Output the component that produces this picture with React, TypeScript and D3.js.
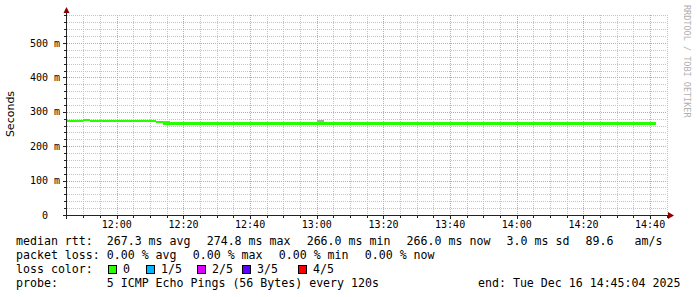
import React from "react";
import * as d3 from "d3";

// ---- data ----
const startTime = "11:45:04";
const endTime = "14:45:04";
const medianTimes = ["11:45:04", "11:50:00", "11:52:00", "12:11:45", "12:13:50", "14:41:40"];
const medianValues = [272.8, 274.8, 272.8, 269.8, 266.0];
const smokeTimes = [["12:13:50", "12:15:55"], ["13:00:04", "13:02:10"]];
const smokeLow = [266.0, 266.0];
const smokeHigh = [273.2, 276.2];
const yMajorTicks = [0, 100, 200, 300, 400, 500];
const rttItems = ["median rtt:  267.3 ms avg", "274.8 ms max", "266.0 ms min", "266.0 ms now", "3.0 ms sd", "89.6   am/s"];
const lossItems = ["packet loss: 0.00 % avg", "0.00 % max", "0.00 % min", "0.00 % now"];
const lossTitle = "loss color:";
const lossLabels = ["0", "1/5", "2/5", "3/5", "4/5"];
const lossColors = ["#26ff00", "#00b8ff", "#dd00ff", "#5e00ff", "#ff0000"];
const probeText = "probe:       5 ICMP Echo Pings (56 Bytes) every 120s";
const endText = "end: Tue Dec 16 14:45:04 2025";
const yMax = 581.4;

const parse = (s: string) => {
  const [h, m, sec] = s.split(":").map(Number);
  return new Date(2025, 11, 16, h, m, sec || 0);
};

const MONO = "'DejaVu Sans Mono', monospace";
const PRE: React.CSSProperties = { whiteSpace: "pre" };
const CW = 6.98; // char advance at 11.6px
const GAP = 16.2;

function itemX(items: string[], x0: number) {
  const out: number[] = [];
  let xx = x0;
  items.forEach((s) => {
    out.push(xx);
    xx += s.length * CW + GAP;
  });
  return out;
}

export default function App() {
  const W = 697, H = 297;
  const x = d3.scaleTime().domain([parse(startTime), parse(endTime)]).range([67, 667]);
  const y = d3.scaleLinear().domain([0, yMax]).range([215, 15]);
  const px = (v: number) => Math.round(v) + 0.5;

  const minorX = x.ticks(d3.timeMinute.every(5) as any);
  const majorX = x.ticks(d3.timeMinute.every(20) as any);
  const majorSet = new Set(majorX.map((d) => +d));
  const minorY = d3.range(20, yMax, 20).filter((v) => v % 100 !== 0);
  const fmt = d3.timeFormat("%H:%M");

  const segs = medianValues.map((v, i) => ({
    t0: parse(medianTimes[i]),
    t1: parse(medianTimes[i + 1]),
    v,
  }));
  const thickFrom = parse("12:13:50");

  const rttX = itemX(rttItems, 16);
  const lossX = itemX(lossItems, 16);
  const swatchX = [108, 146, 197, 242, 298];

  return (
    <svg width={W} height={H} style={{ display: "block", position: "absolute", left: 0, top: 0, background: "#fff" }}>
      <rect width={W} height={H} fill="#fff" />
      {/* minor grid */}
      <g stroke="#c4c4c4" strokeWidth={1} strokeDasharray="1,1" shapeRendering="crispEdges">
        {minorX.filter((d) => !majorSet.has(+d)).map((d, i) => (
          <line key={"mx" + i} x1={px(x(d))} x2={px(x(d))} y1={15} y2={215} />
        ))}
        {minorY.map((v, i) => (
          <line key={"my" + i} x1={67} x2={667} y1={px(y(v))} y2={px(y(v))} />
        ))}
      </g>
      {/* major grid */}
      <g stroke="#e49a9a" strokeWidth={1} strokeDasharray="1,1" shapeRendering="crispEdges">
        {majorX.map((d, i) => (
          <line key={"Mx" + i} x1={px(x(d))} x2={px(x(d))} y1={15} y2={215} />
        ))}
        {yMajorTicks.filter((v) => v > 0).map((v, i) => (
          <line key={"My" + i} x1={67} x2={667} y1={px(y(v))} y2={px(y(v))} />
        ))}
      </g>
      {/* smoke */}
      {smokeTimes.map(([a, b], i) => (
        <rect key={"s" + i} x={x(parse(a))} width={x(parse(b)) - x(parse(a))}
          y={y(smokeHigh[i])} height={y(smokeLow[i]) - y(smokeHigh[i])} fill="#a8a8a8" shapeRendering="crispEdges" />
      ))}
      {/* median */}
      {segs.map((s, i) => {
        const h = s.t0 >= thickFrom ? 3 : 2;
        return (
          <rect key={"m" + i} x={x(s.t0)} width={x(s.t1) - x(s.t0)} y={Math.round(y(s.v) - h / 2)} height={h}
            fill={lossColors[0]} shapeRendering="crispEdges" />
        );
      })}
      {/* axes */}
      <g stroke="#222" strokeWidth={1} shapeRendering="crispEdges">
        <line x1={66.5} x2={66.5} y1={12} y2={219} />
        <line x1={63} x2={669} y1={215.5} y2={215.5} />
        {minorX.map((d, i) => (
          <line key={"tx" + i} x1={px(x(d))} x2={px(x(d))} y1={215} y2={majorSet.has(+d) ? 219 : 218} />
        ))}
        {d3.range(20, yMax, 20).map((v, i) => (
          <line key={"ty" + i} x1={v % 100 === 0 ? 63 : 64} x2={67} y1={px(y(v))} y2={px(y(v))} />
        ))}
      </g>
      <path d="M63.5,13 L66.5,7 L69.5,13 Z" fill="#8b0000" />
      <path d="M668,212 L674,215.5 L668,219 Z" fill="#8b0000" />
      {/* y labels */}
      <g fontFamily={MONO} fontSize={10} fill="#000" textAnchor="end">
        {yMajorTicks.map((v, i) => (
          <text key={"yl" + i} x={60} y={y(v) + 3.5} xmlSpace="preserve" style={PRE}>
            {v === 0 ? "0  " : `${v} m`}
          </text>
        ))}
      </g>
      {/* x labels */}
      <g fontFamily={MONO} fontSize={10} fill="#000" textAnchor="middle">
        {majorX.map((d, i) => (
          <text key={"xl" + i} x={x(d)} y={228}>{fmt(d)}</text>
        ))}
      </g>
      <text transform="translate(14,114) rotate(-90)" textAnchor="middle" fontFamily="'DejaVu Sans', sans-serif" fontSize={11} fill="#000">Seconds</text>
      <text transform="translate(684,5) rotate(90)" fontFamily={MONO} fontSize={8.5} fill="#b0b0b0">RRDTOOL / TOBI OETIKER</text>
      {/* legend */}
      <g fontFamily={MONO} fontSize={11.6} fill="#000">
        {rttItems.map((l, i) => (
          <text key={"r" + i} x={rttX[i]} y={244.5} xmlSpace="preserve" style={PRE}>{l}</text>
        ))}
        {lossItems.map((l, i) => (
          <text key={"p" + i} x={lossX[i]} y={258.5} xmlSpace="preserve" style={PRE}>{l}</text>
        ))}
        <text x={16} y={272.5}>{lossTitle}</text>
        {lossLabels.map((l, i) => (
          <g key={"lc" + i}>
            <rect x={swatchX[i] + 0.5} y={265.5} width={8} height={8} fill={lossColors[i]} stroke="#000" strokeWidth={1} />
            <text x={swatchX[i] + 15} y={272.5}>{l}</text>
          </g>
        ))}
        <text x={16} y={286.5} xmlSpace="preserve" style={PRE}>{probeText}</text>
        <text x={478} y={286.5} xmlSpace="preserve" style={PRE}>{endText}</text>
      </g>
    </svg>
  );
}
